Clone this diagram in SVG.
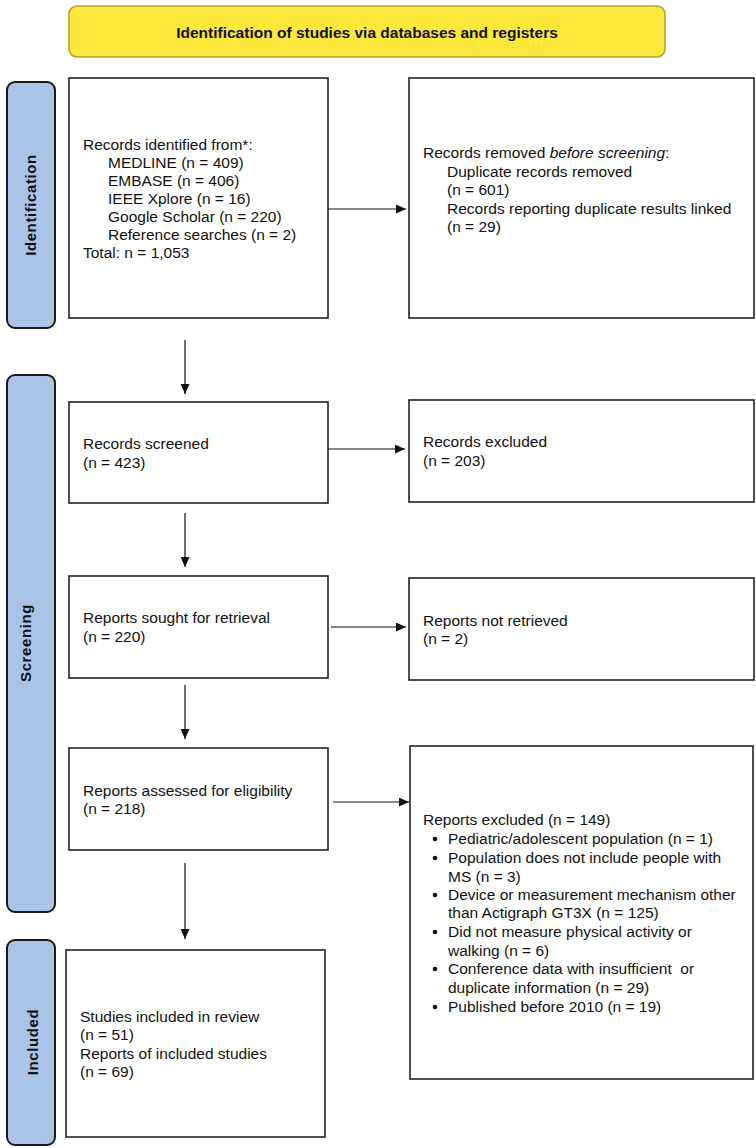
<svg xmlns="http://www.w3.org/2000/svg" width="756" height="1148" viewBox="0 0 756 1148">
<style>
.box{fill:#fff;stroke:#222;stroke-width:1.6}
.bar{fill:#a9c4e7;stroke:#1a1a1a;stroke-width:2}
.hdr{fill:#fbe83a;stroke:#b8a035;stroke-width:1.6}
.t{font-family:"Liberation Sans",Arial,sans-serif;font-size:15.5px;fill:#111}
.b{font-family:"Liberation Sans",Arial,sans-serif;font-size:15.5px;font-weight:bold;fill:#111}
.lab{font-family:"Liberation Sans",Arial,sans-serif;font-size:15px;font-weight:bold;fill:#111;letter-spacing:0.6px}
.c{stroke:#111;stroke-width:1.2;fill:none}
</style>
<defs>
<marker id="ah" markerWidth="10" markerHeight="9" refX="10" refY="4.5" orient="auto" markerUnits="userSpaceOnUse">
<path d="M0,0 L10,4.5 L0,9 Z" fill="#111"/>
</marker>
</defs>

<g id="header">
<rect class="hdr" x="69" y="6" width="596" height="51" rx="8"/>
<text class="b" x="367" y="38" text-anchor="middle">Identification of studies via databases and registers</text>
</g>

<g id="bar-identification">
<rect class="bar" x="7" y="82" width="48" height="246" rx="8"/>
<text class="lab" transform="translate(36,205) rotate(-90)" text-anchor="middle">Identification</text>
</g>
<g id="bar-screening">
<rect class="bar" x="7" y="375" width="48" height="537" rx="8"/>
<text class="lab" transform="translate(31,643) rotate(-90)" text-anchor="middle">Screening</text>
</g>
<g id="bar-included">
<rect class="bar" x="7" y="940" width="48" height="205" rx="8"/>
<text class="lab" transform="translate(38,1042) rotate(-90)" text-anchor="middle">Included</text>
</g>

<g id="records-identified">
<rect class="box" x="69" y="78" width="259" height="240"/>
<text class="t" x="83" y="150">Records identified from*:</text>
<text class="t" x="108" y="168">MEDLINE (n = 409)</text>
<text class="t" x="108" y="186">EMBASE (n = 406)</text>
<text class="t" x="108" y="204">IEEE Xplore (n = 16)</text>
<text class="t" x="108" y="222">Google Scholar (n = 220)</text>
<text class="t" x="108" y="240">Reference searches (n = 2)</text>
<text class="t" x="83" y="258">Total: n = 1,053</text>
</g>

<g id="records-removed">
<rect class="box" x="409" y="78" width="345" height="240"/>
<text class="t" x="423" y="158">Records removed <tspan font-style="italic">before screening</tspan>:</text>
<text class="t" x="447" y="176.5">Duplicate records removed</text>
<text class="t" x="447" y="195">(n = 601)</text>
<text class="t" x="447" y="213.5">Records reporting duplicate results linked</text>
<text class="t" x="447" y="232">(n = 29)</text>
</g>

<g id="records-screened">
<rect class="box" x="69" y="402" width="259" height="101"/>
<text class="t" x="83" y="449">Records screened</text>
<text class="t" x="83" y="468">(n = 423)</text>
</g>

<g id="records-excluded">
<rect class="box" x="409" y="400" width="345" height="102"/>
<text class="t" x="423" y="447">Records excluded</text>
<text class="t" x="423" y="466">(n = 203)</text>
</g>

<g id="reports-sought">
<rect class="box" x="69" y="576" width="259" height="102"/>
<text class="t" x="83" y="623">Reports sought for retrieval</text>
<text class="t" x="83" y="642">(n = 220)</text>
</g>

<g id="reports-not-retrieved">
<rect class="box" x="409" y="578" width="345" height="102"/>
<text class="t" x="423" y="626">Reports not retrieved</text>
<text class="t" x="423" y="644">(n = 2)</text>
</g>

<g id="reports-assessed">
<rect class="box" x="69" y="748" width="259" height="102"/>
<text class="t" x="83" y="796">Reports assessed for eligibility</text>
<text class="t" x="83" y="814">(n = 218)</text>
</g>

<g id="reports-excluded">
<rect class="box" x="410" y="746" width="343" height="333"/>
<text class="t" x="423" y="825">Reports excluded (n = 149)</text>
<g fill="#111">
<circle cx="435" cy="839" r="2.3"/>
<circle cx="435" cy="858" r="2.3"/>
<circle cx="435" cy="895" r="2.3"/>
<circle cx="435" cy="932" r="2.3"/>
<circle cx="435" cy="969" r="2.3"/>
<circle cx="435" cy="1007" r="2.3"/>
</g>
<text class="t" x="448" y="844">Pediatric/adolescent population (n = 1)</text>
<text class="t" x="448" y="863">Population does not include people with</text>
<text class="t" x="448" y="882">MS (n = 3)</text>
<text class="t" x="448" y="900">Device or measurement mechanism other</text>
<text class="t" x="448" y="918">than Actigraph GT3X (n = 125)</text>
<text class="t" x="448" y="937">Did not measure physical activity or</text>
<text class="t" x="448" y="956">walking (n = 6)</text>
<text class="t" x="448" y="974" xml:space="preserve">Conference data with insufficient  or</text>
<text class="t" x="448" y="993">duplicate information (n = 29)</text>
<text class="t" x="448" y="1012">Published before 2010 (n = 19)</text>
</g>

<g id="studies-included">
<rect class="box" x="66" y="950" width="259" height="187"/>
<text class="t" x="80" y="1022">Studies included in review</text>
<text class="t" x="80" y="1040">(n = 51)</text>
<text class="t" x="80" y="1059">Reports of included studies</text>
<text class="t" x="80" y="1077">(n = 69)</text>
</g>

<g id="connectors">
<line class="c" x1="328" y1="209" x2="406" y2="209" marker-end="url(#ah)"/>
<line class="c" x1="185" y1="340" x2="185" y2="394" marker-end="url(#ah)"/>
<line class="c" x1="328" y1="449" x2="405" y2="449" marker-end="url(#ah)"/>
<line class="c" x1="185" y1="513" x2="185" y2="567" marker-end="url(#ah)"/>
<line class="c" x1="331" y1="627" x2="406" y2="627" marker-end="url(#ah)"/>
<line class="c" x1="185" y1="685" x2="185" y2="739" marker-end="url(#ah)"/>
<line class="c" x1="333" y1="802" x2="409" y2="802" marker-end="url(#ah)"/>
<line class="c" x1="185" y1="863" x2="185" y2="939" marker-end="url(#ah)"/>
</g>
</svg>
